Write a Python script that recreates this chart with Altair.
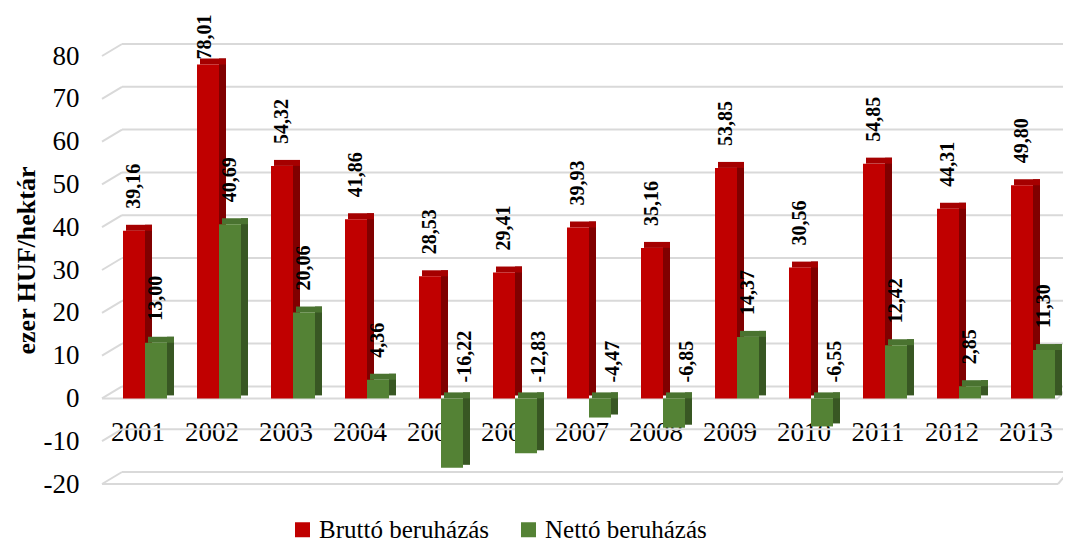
import altair as alt
import pandas as pd

years = ["2001", "2002", "2003", "2004", "2005", "2006", "2007",
         "2008", "2009", "2010", "2011", "2012", "2013"]
brutto = [39.16, 78.01, 54.32, 41.86, 28.53, 29.41, 39.93, 35.16, 53.85, 30.56, 54.85, 44.31, 49.80]
netto = [13.00, 40.69, 20.06, 4.36, -16.22, -12.83, -4.47, -6.85, 14.37, -6.55, 12.42, 2.85, 11.30]
series_names = ["Bruttó beruházás", "Nettó beruházás"]
yticks = [-20, -10, 0, 10, 20, 30, 40, 50, 60, 70, 80]
floor_levels = [0, -20]

FRONT = ["#C00000", "#548235"]
SIDE = ["#800000", "#385723"]
TOPC = ["#A50000", "#4A7330"]
FONT = "Liberation Serif"
GRID = "#D9D9D9"

rows = []
for si, vals in enumerate([brutto, netto]):
    for y, v in zip(years, vals):
        rows.append({"year": y, "series": series_names[si], "v": v,
                     "top": max(v, 0.0), "bot": min(v, 0.0),
                     "label": f"{v:.2f}".replace(".", ",")})
df = pd.DataFrame(rows)
grid_df = pd.DataFrame({"v": yticks})
floor_df = pd.DataFrame({"v": floor_levels})

yscale = alt.Scale(domain=[-20, 80], nice=False, zero=False)
xscale = alt.Scale(range=[2, 964], paddingInner=0, paddingOuter=0)

yaxis = alt.Axis(values=yticks, grid=False, domain=False, ticks=False,
                 labelFont=FONT, labelFontSize=27, labelColor="black", labelPadding=27,
                 labelExpr="'' + datum.value",
                 title="ezer HUF/hektár", titleFont=FONT, titleFontSize=26,
                 titleFontWeight="bold", titleColor="black", titleAngle=270,
                 titleX=-80, titleY=204, titleAlign="center", titleBaseline="middle")
xaxis = alt.Axis(title=None, domain=False, ticks=False, grid=False, labelAngle=0,
                 labelFont=FONT, labelFontSize=27, labelColor="black",
                 labelPadding=0, labelBaseline="middle", offset=-52, labelOffset=-7)

X = alt.X("year:N", scale=xscale, axis=xaxis, sort=years)

# grid lines (3D style: back wall lines + left diagonals + floor fronts)
grid_back = alt.Chart(grid_df).mark_rule(color=GRID, strokeWidth=2, yOffset=-12).encode(
    y=alt.Y("v:Q", scale=yscale, axis=yaxis), x=alt.value(16), x2=alt.value(962))
grid_diag = alt.Chart(grid_df).mark_rule(color=GRID, strokeWidth=2, y2Offset=-12).encode(
    y=alt.Y("v:Q", scale=yscale, axis=yaxis), y2="v:Q", x=alt.value(-4), x2=alt.value(16))
floor_front = alt.Chart(floor_df).mark_rule(color=GRID, strokeWidth=2).encode(
    y=alt.Y("v:Q", scale=yscale, axis=yaxis), x=alt.value(-4), x2=alt.value(952))
floor_right = alt.Chart(floor_df).mark_rule(color=GRID, strokeWidth=2, y2Offset=-12).encode(
    y=alt.Y("v:Q", scale=yscale, axis=yaxis), y2="v:Q", x=alt.value(952), x2=alt.value(962))

color_enc = alt.Color("series:N", scale=alt.Scale(domain=series_names, range=FRONT),
                      legend=alt.Legend(orient="none", legendX=184, legendY=461,
                                        direction="horizontal", title=None,
                                        symbolType="square", symbolSize=225,
                                        symbolStrokeWidth=0, labelFont=FONT,
                                        labelFontSize=25, labelColor="black",
                                        labelOffset=4, columnPadding=26, padding=0,
                                        labelLimit=400))

layers = [grid_back, grid_diag, floor_front, floor_right]
front_off = [-11, 11]
for si, name in enumerate(series_names):
    base = alt.Chart(df).transform_filter(alt.datum.series == name)
    fo = front_off[si]
    side = base.mark_bar(color=SIDE[si], size=7, xOffset=fo + 14.5,
                         yOffset=-6, y2Offset=-3).encode(
        x=X, y=alt.Y("top:Q", scale=yscale, axis=yaxis), y2="bot:Q")
    topf = base.mark_bar(color=TOPC[si], size=26, xOffset=fo + 5, y2Offset=-6).encode(
        x=X, y=alt.Y("top:Q", scale=yscale, axis=yaxis), y2="top:Q")
    front = base.mark_bar(size=22, xOffset=fo).encode(
        x=X, y=alt.Y("top:Q", scale=yscale, axis=yaxis), y2="bot:Q", color=color_enc)
    layers += [side, topf, front]

text_kw = dict(angle=270, align="left", baseline="middle", font=FONT,
               fontSize=20, fontWeight="bold", color="black")
for si, name in enumerate(series_names):
    base = alt.Chart(df).transform_filter(alt.datum.series == name)
    fo = front_off[si]
    lab_norm = base.transform_filter("datum.v >= 0 && datum.v < 70").mark_text(
        xOffset=fo, yOffset=-22, **text_kw).encode(
        x=X, y=alt.Y("top:Q", scale=yscale, axis=yaxis), text="label:N")
    lab_tall = base.transform_filter("datum.v >= 70").mark_text(
        xOffset=fo - 3, yOffset=-5, **text_kw).encode(
        x=X, y=alt.Y("top:Q", scale=yscale, axis=yaxis), text="label:N")
    lab_neg = base.transform_filter("datum.v < 0").mark_text(
        xOffset=fo + 13, yOffset=-16, **text_kw).encode(
        x=X, y=alt.Y("top:Q", scale=yscale, axis=yaxis), text="label:N")
    layers += [lab_norm, lab_tall, lab_neg]

chart = alt.layer(*layers).properties(
    width=949, height=428,
    autosize=alt.AutoSizeParams(type="none"),
    padding={"left": 98, "top": 48, "right": 8, "bottom": 62},
    background="white",
).configure_view(stroke=None)

chart.save("out.html", embed_options={"renderer": "svg", "actions": False})
